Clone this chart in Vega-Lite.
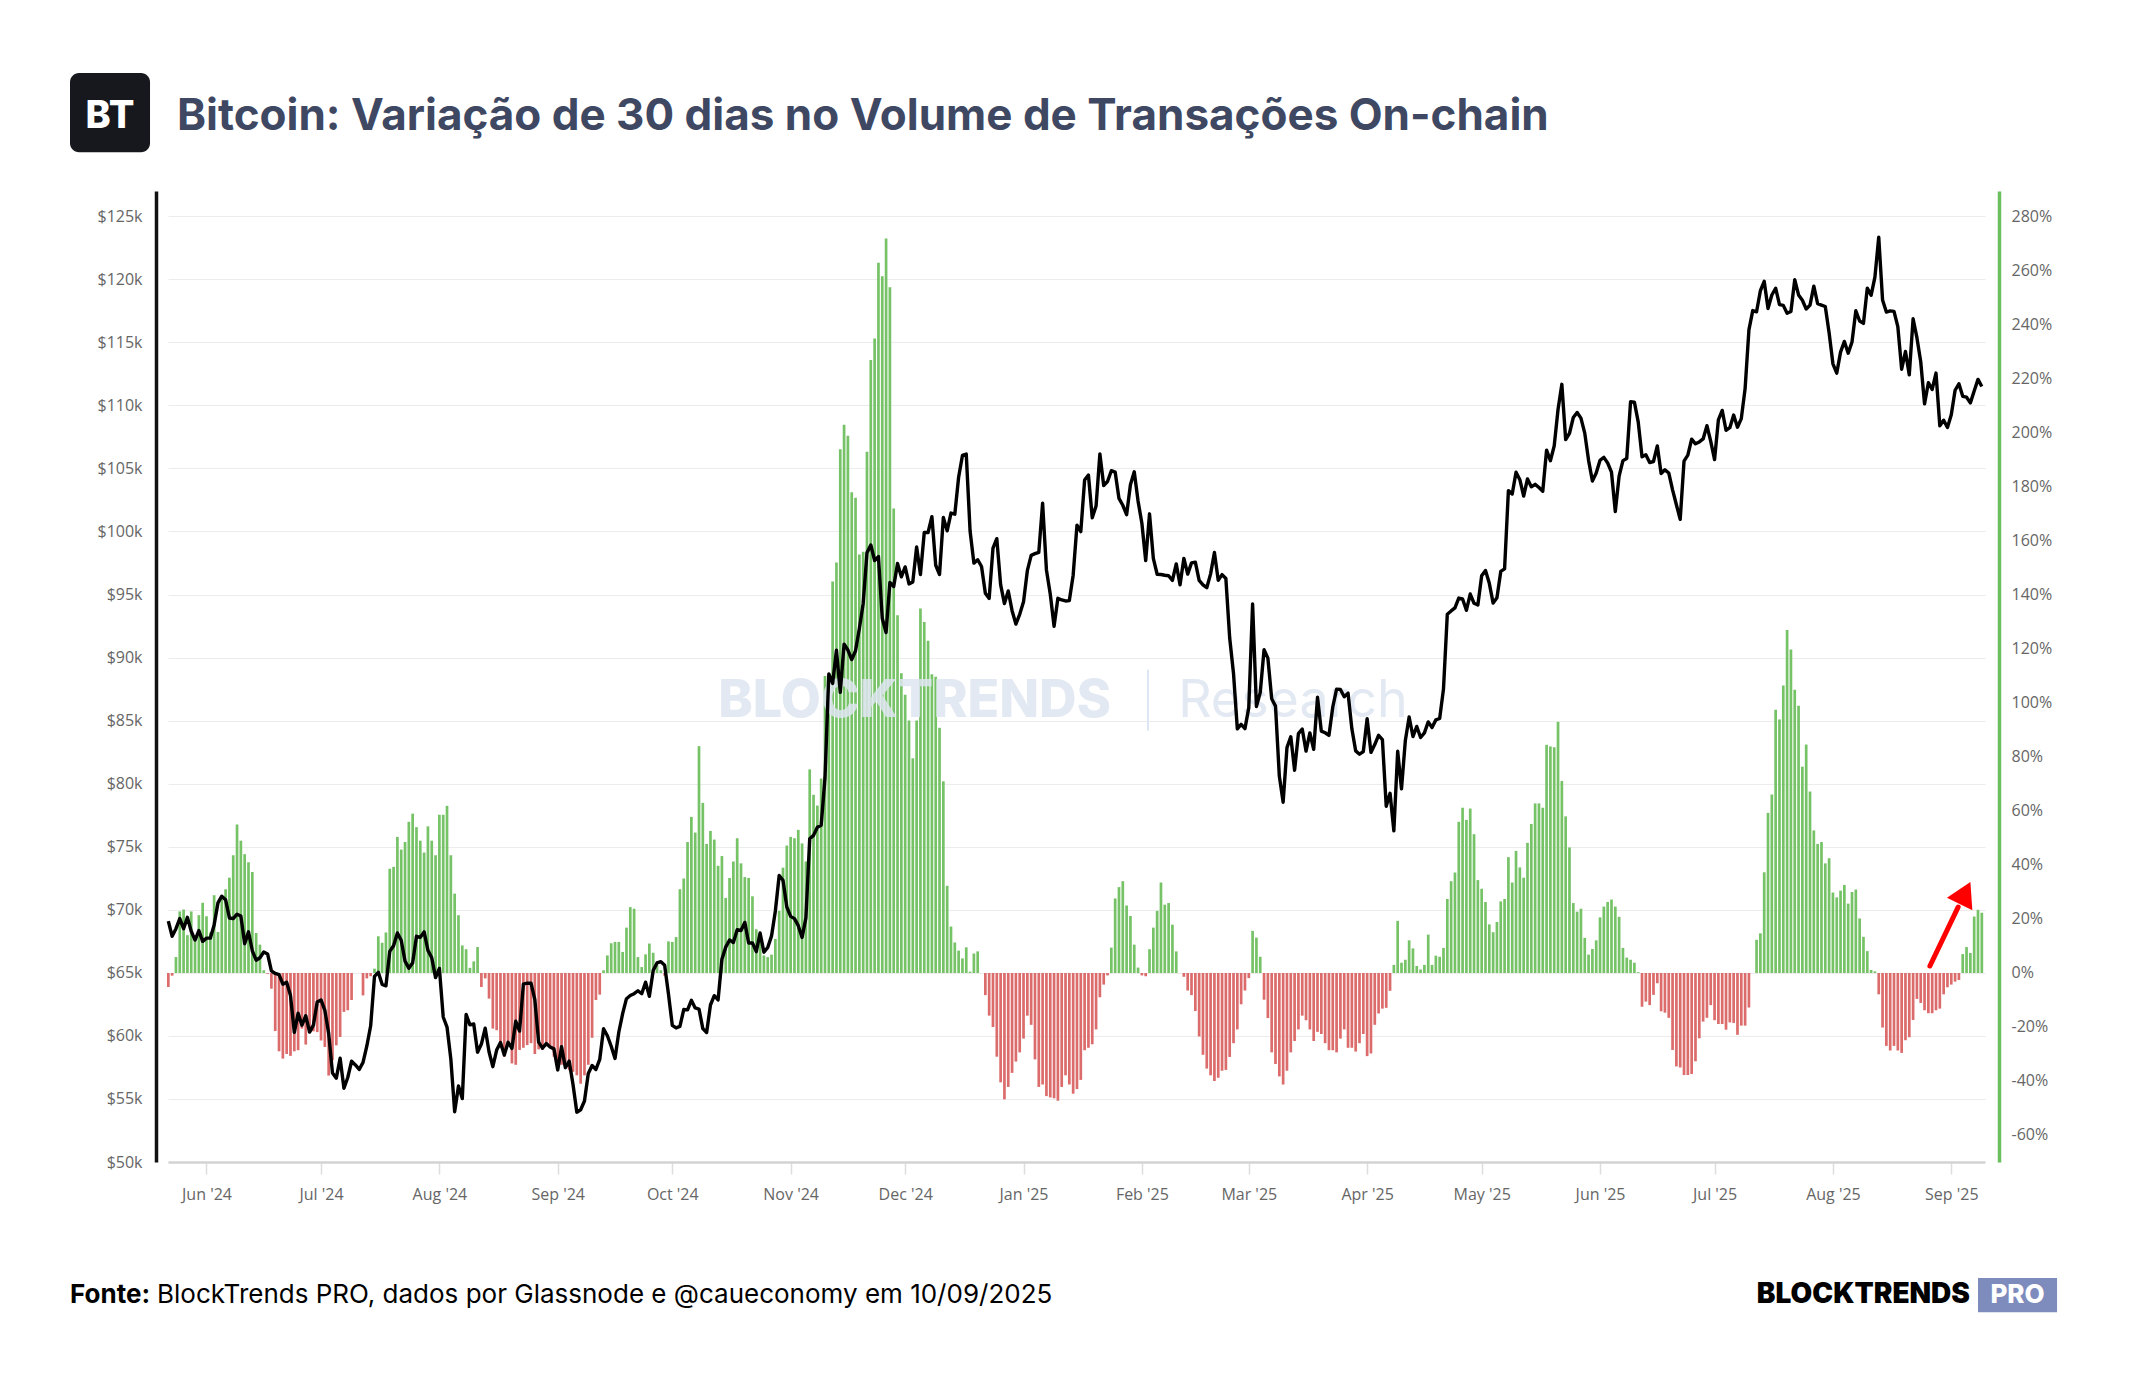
{
"$schema": "https://vega.github.io/schema/vega-lite/v6.json",
"width": 1817, "height": 971,
"autosize": {"type": "none"},
"padding": {"left": 168, "top": 191, "right": 159, "bottom": 238},
"background": "#ffffff",
"config": {"view": {"stroke": null}, "font": "Inter", "axis": {"labelFont": "Open Sans", "labelFontSize": 16, "labelColor": "#666666", "title": null}},
"datasets": {"btc": [
{"date":"2024-05-22","price":69100,"change":-5.2},{"date":"2024-05-23","price":67900,"change":-1},{"date":"2024-05-24","price":68500,"change":5.9},{"date":"2024-05-25","price":69300,"change":22.8},{"date":"2024-05-26","price":68500,"change":23.5},{"date":"2024-05-27","price":69400,"change":14},{"date":"2024-05-28","price":68300,"change":22.8},{"date":"2024-05-29","price":67600,"change":12},{"date":"2024-05-30","price":68350,"change":21.4},{"date":"2024-05-31","price":67500,"change":26},
{"date":"2024-06-01","price":67750,"change":21},{"date":"2024-06-02","price":67750,"change":15},{"date":"2024-06-03","price":68800,"change":28.8},{"date":"2024-06-04","price":70550,"change":15.2},{"date":"2024-06-05","price":71080,"change":28},{"date":"2024-06-06","price":70800,"change":31},{"date":"2024-06-07","price":69350,"change":35.3},{"date":"2024-06-08","price":69300,"change":43.6},{"date":"2024-06-09","price":69650,"change":55},{"date":"2024-06-10","price":69500,"change":49},{"date":"2024-06-11","price":67300,"change":44},{"date":"2024-06-12","price":68250,"change":41},{"date":"2024-06-13","price":66750,"change":37.4},{"date":"2024-06-14","price":66000,"change":14.8},{"date":"2024-06-15","price":66200,"change":10.5},{"date":"2024-06-16","price":66650,"change":1},{"date":"2024-06-17","price":66500,"change":-0.3},{"date":"2024-06-18","price":65150,"change":-5.8},{"date":"2024-06-19","price":64950,"change":-21.5},{"date":"2024-06-20","price":64850,"change":-29},{"date":"2024-06-21","price":64100,"change":-31.7},{"date":"2024-06-22","price":64250,"change":-30},{"date":"2024-06-23","price":63200,"change":-30.7},{"date":"2024-06-24","price":60280,"change":-29},{"date":"2024-06-25","price":61800,"change":-28.6},{"date":"2024-06-26","price":60850,"change":-20.6},{"date":"2024-06-27","price":61600,"change":-26.5},{"date":"2024-06-28","price":60300,"change":-21.9},{"date":"2024-06-29","price":60850,"change":-21.6},{"date":"2024-06-30","price":62680,"change":-21.9},
{"date":"2024-07-01","price":62850,"change":-25},{"date":"2024-07-02","price":62030,"change":-27.4},{"date":"2024-07-03","price":60200,"change":-38},{"date":"2024-07-04","price":57050,"change":-32.3},{"date":"2024-07-05","price":56650,"change":-26.8},{"date":"2024-07-06","price":58230,"change":-23.7},{"date":"2024-07-07","price":55850,"change":-14.4},{"date":"2024-07-08","price":56700,"change":-13.8},{"date":"2024-07-09","price":57990,"change":-10},{"date":"2024-07-10","price":57700,"change":0},{"date":"2024-07-11","price":57340,"change":0},{"date":"2024-07-12","price":57900,"change":-8.3},{"date":"2024-07-13","price":59200,"change":-2},{"date":"2024-07-14","price":60800,"change":-1.2},{"date":"2024-07-15","price":64720,"change":1.6},{"date":"2024-07-16","price":65040,"change":13.6},{"date":"2024-07-17","price":64090,"change":11.2},{"date":"2024-07-18","price":63970,"change":15},{"date":"2024-07-19","price":66700,"change":38.6},{"date":"2024-07-20","price":67150,"change":39.3},{"date":"2024-07-21","price":68160,"change":50.4},{"date":"2024-07-22","price":67580,"change":45.7},{"date":"2024-07-23","price":65930,"change":48.5},{"date":"2024-07-24","price":65370,"change":56},{"date":"2024-07-25","price":65800,"change":59},{"date":"2024-07-26","price":67900,"change":54},{"date":"2024-07-27","price":67810,"change":49},{"date":"2024-07-28","price":68250,"change":44.6},{"date":"2024-07-29","price":66780,"change":54.3},{"date":"2024-07-30","price":66190,"change":49},{"date":"2024-07-31","price":64620,"change":43.6},
{"date":"2024-08-01","price":65350,"change":58.6},{"date":"2024-08-02","price":61500,"change":58.6},{"date":"2024-08-03","price":60700,"change":61.9},{"date":"2024-08-04","price":58160,"change":43.6},{"date":"2024-08-05","price":53990,"change":29.4},{"date":"2024-08-06","price":56030,"change":21.4},{"date":"2024-08-07","price":55030,"change":10.2},{"date":"2024-08-08","price":61700,"change":8.8},{"date":"2024-08-09","price":60880,"change":1.9},{"date":"2024-08-10","price":60940,"change":4.3},{"date":"2024-08-11","price":58710,"change":9.6},{"date":"2024-08-12","price":59350,"change":-5.2},{"date":"2024-08-13","price":60610,"change":-2},{"date":"2024-08-14","price":58740,"change":-9.5},{"date":"2024-08-15","price":57560,"change":-20.6},{"date":"2024-08-16","price":58880,"change":-21.2},{"date":"2024-08-17","price":59480,"change":-26.7},{"date":"2024-08-18","price":58480,"change":-31},{"date":"2024-08-19","price":59490,"change":-26.7},{"date":"2024-08-20","price":59010,"change":-33.5},{"date":"2024-08-21","price":61160,"change":-34},{"date":"2024-08-22","price":60380,"change":-28.5},{"date":"2024-08-23","price":64100,"change":-27.7},{"date":"2024-08-24","price":64180,"change":-26.7},{"date":"2024-08-25","price":64180,"change":-26},{"date":"2024-08-26","price":62880,"change":-30},{"date":"2024-08-27","price":59500,"change":-28.3},{"date":"2024-08-28","price":59030,"change":-28.5},{"date":"2024-08-29","price":59390,"change":-26.7},{"date":"2024-08-30","price":59120,"change":-27.7},{"date":"2024-08-31","price":58970,"change":-31},
{"date":"2024-09-01","price":57300,"change":-35.4},{"date":"2024-09-02","price":59140,"change":-34},{"date":"2024-09-03","price":57480,"change":-33},{"date":"2024-09-04","price":58000,"change":-36},{"date":"2024-09-05","price":56150,"change":-36.6},{"date":"2024-09-06","price":53950,"change":-37.9},{"date":"2024-09-07","price":54140,"change":-41},{"date":"2024-09-08","price":54840,"change":-37.9},{"date":"2024-09-09","price":57020,"change":-34},{"date":"2024-09-10","price":57650,"change":-24},{"date":"2024-09-11","price":57340,"change":-10},{"date":"2024-09-12","price":58130,"change":-8},{"date":"2024-09-13","price":60570,"change":1},{"date":"2024-09-14","price":60010,"change":6.5},{"date":"2024-09-15","price":59180,"change":11},{"date":"2024-09-16","price":58210,"change":11.5},{"date":"2024-09-17","price":60310,"change":11.5},{"date":"2024-09-18","price":61760,"change":7.8},{"date":"2024-09-19","price":62950,"change":16.8},{"date":"2024-09-20","price":63200,"change":24.4},{"date":"2024-09-21","price":63350,"change":23.8},{"date":"2024-09-22","price":63580,"change":5.9},{"date":"2024-09-23","price":63340,"change":2.2},{"date":"2024-09-24","price":64260,"change":6.9},{"date":"2024-09-25","price":63140,"change":10.9},{"date":"2024-09-26","price":65180,"change":7.5},{"date":"2024-09-27","price":65790,"change":3},{"date":"2024-09-28","price":65890,"change":1},{"date":"2024-09-29","price":65600,"change":-1},{"date":"2024-09-30","price":63330,"change":11.7},
{"date":"2024-10-01","price":60840,"change":11.5},{"date":"2024-10-02","price":60630,"change":13.3},{"date":"2024-10-03","price":60750,"change":31},{"date":"2024-10-04","price":62090,"change":35},{"date":"2024-10-05","price":62060,"change":48.5},{"date":"2024-10-06","price":62820,"change":57.8},{"date":"2024-10-07","price":62220,"change":52},{"date":"2024-10-08","price":62130,"change":84},{"date":"2024-10-09","price":60580,"change":63},{"date":"2024-10-10","price":60270,"change":47.8},{"date":"2024-10-11","price":62450,"change":52.6},{"date":"2024-10-12","price":63190,"change":49.4},{"date":"2024-10-13","price":62850,"change":39.7},{"date":"2024-10-14","price":66080,"change":43.3},{"date":"2024-10-15","price":67040,"change":27.8},{"date":"2024-10-16","price":67610,"change":35.2},{"date":"2024-10-17","price":67400,"change":41.3},{"date":"2024-10-18","price":68420,"change":49.9},{"date":"2024-10-19","price":68360,"change":40.6},{"date":"2024-10-20","price":69000,"change":35.5},{"date":"2024-10-21","price":67370,"change":35.2},{"date":"2024-10-22","price":67380,"change":28.4},{"date":"2024-10-23","price":66680,"change":16.2},{"date":"2024-10-24","price":68160,"change":14.9},{"date":"2024-10-25","price":66640,"change":6.5},{"date":"2024-10-26","price":67010,"change":5.9},{"date":"2024-10-27","price":67930,"change":6.8},{"date":"2024-10-28","price":69900,"change":12.6},{"date":"2024-10-29","price":72720,"change":23},{"date":"2024-10-30","price":72340,"change":39},{"date":"2024-10-31","price":70220,"change":47.2},
{"date":"2024-11-01","price":69480,"change":50.4},{"date":"2024-11-02","price":69300,"change":49.9},{"date":"2024-11-03","price":68740,"change":53},{"date":"2024-11-04","price":67810,"change":48},{"date":"2024-11-05","price":69360,"change":41.3},{"date":"2024-11-06","price":75640,"change":75.4},{"date":"2024-11-07","price":75900,"change":66},{"date":"2024-11-08","price":76540,"change":62},{"date":"2024-11-09","price":76700,"change":72},{"date":"2024-11-10","price":80470,"change":110},{"date":"2024-11-11","price":88700,"change":100},{"date":"2024-11-12","price":87950,"change":145},{"date":"2024-11-13","price":90580,"change":152},{"date":"2024-11-14","price":87250,"change":194},{"date":"2024-11-15","price":91070,"change":203},{"date":"2024-11-16","price":90600,"change":199},{"date":"2024-11-17","price":89840,"change":178},{"date":"2024-11-18","price":90540,"change":176},{"date":"2024-11-19","price":92310,"change":155},{"date":"2024-11-20","price":94290,"change":156},{"date":"2024-11-21","price":98320,"change":193},{"date":"2024-11-22","price":98930,"change":227},{"date":"2024-11-23","price":97700,"change":235},{"date":"2024-11-24","price":98010,"change":263},{"date":"2024-11-25","price":93100,"change":258},{"date":"2024-11-26","price":91990,"change":272},{"date":"2024-11-27","price":95960,"change":254},{"date":"2024-11-28","price":95640,"change":172},{"date":"2024-11-29","price":97460,"change":132.5},{"date":"2024-11-30","price":96400,"change":111},
{"date":"2024-12-01","price":97190,"change":103},{"date":"2024-12-02","price":95840,"change":93.5},{"date":"2024-12-03","price":96000,"change":79.5},{"date":"2024-12-04","price":98770,"change":93.5},{"date":"2024-12-05","price":96590,"change":135},{"date":"2024-12-06","price":99920,"change":130},{"date":"2024-12-07","price":99920,"change":123},{"date":"2024-12-08","price":101170,"change":110.6},{"date":"2024-12-09","price":97320,"change":109.7},{"date":"2024-12-10","price":96590,"change":90.8},{"date":"2024-12-11","price":101120,"change":71},{"date":"2024-12-12","price":100050,"change":32.3},{"date":"2024-12-13","price":101460,"change":17.2},{"date":"2024-12-14","price":101370,"change":11.3},{"date":"2024-12-15","price":104300,"change":8.3},{"date":"2024-12-16","price":106030,"change":5.4},{"date":"2024-12-17","price":106140,"change":9.5},{"date":"2024-12-18","price":100040,"change":0.5},{"date":"2024-12-19","price":97490,"change":7.2},{"date":"2024-12-20","price":97760,"change":8},{"date":"2024-12-21","price":97220,"change":0},{"date":"2024-12-22","price":95100,"change":-8.2},{"date":"2024-12-23","price":94690,"change":-15.8},{"date":"2024-12-24","price":98680,"change":-20},{"date":"2024-12-25","price":99430,"change":-31},{"date":"2024-12-26","price":95790,"change":-40.5},{"date":"2024-12-27","price":94280,"change":-46.8},{"date":"2024-12-28","price":95280,"change":-42.2},{"date":"2024-12-29","price":93720,"change":-37},{"date":"2024-12-30","price":92660,"change":-32.8},{"date":"2024-12-31","price":93430,"change":-29.4},
{"date":"2025-01-01","price":94420,"change":-24.3},{"date":"2025-01-02","price":96890,"change":-15.8},{"date":"2025-01-03","price":98110,"change":-19.2},{"date":"2025-01-04","price":98240,"change":-32},{"date":"2025-01-05","price":98350,"change":-42.2},{"date":"2025-01-06","price":102240,"change":-41.3},{"date":"2025-01-07","price":96950,"change":-45.6},{"date":"2025-01-08","price":95040,"change":-46.1},{"date":"2025-01-09","price":92480,"change":-46.4},{"date":"2025-01-10","price":94700,"change":-47.3},{"date":"2025-01-11","price":94570,"change":-42.2},{"date":"2025-01-12","price":94490,"change":-37.9},{"date":"2025-01-13","price":94520,"change":-41.3},{"date":"2025-01-14","price":96530,"change":-44.7},{"date":"2025-01-15","price":100500,"change":-43},{"date":"2025-01-16","price":99990,"change":-39.6},{"date":"2025-01-17","price":104080,"change":-28.6},{"date":"2025-01-18","price":104480,"change":-27.7},{"date":"2025-01-19","price":101090,"change":-26.4},{"date":"2025-01-20","price":102020,"change":-20.9},{"date":"2025-01-21","price":106150,"change":-9},{"date":"2025-01-22","price":103650,"change":-4.3},{"date":"2025-01-23","price":103960,"change":-0.9},{"date":"2025-01-24","price":104820,"change":9.4},{"date":"2025-01-25","price":104710,"change":27.6},{"date":"2025-01-26","price":102620,"change":31.8},{"date":"2025-01-27","price":102080,"change":34},{"date":"2025-01-28","price":101330,"change":25},{"date":"2025-01-29","price":103700,"change":21.1},{"date":"2025-01-30","price":104730,"change":10.5},{"date":"2025-01-31","price":102410,"change":2},
{"date":"2025-02-01","price":100650,"change":-0.9},{"date":"2025-02-02","price":97690,"change":-1.2},{"date":"2025-02-03","price":101400,"change":8.8},{"date":"2025-02-04","price":97870,"change":16.8},{"date":"2025-02-05","price":96610,"change":23},{"date":"2025-02-06","price":96590,"change":33.5},{"date":"2025-02-07","price":96530,"change":25.3},{"date":"2025-02-08","price":96490,"change":25.9},{"date":"2025-02-09","price":96120,"change":17.9},{"date":"2025-02-10","price":97430,"change":8},{"date":"2025-02-11","price":95770,"change":0},{"date":"2025-02-12","price":97870,"change":-1.4},{"date":"2025-02-13","price":96620,"change":-6.5},{"date":"2025-02-14","price":97510,"change":-8.2},{"date":"2025-02-15","price":97570,"change":-14.1},{"date":"2025-02-16","price":96120,"change":-23.5},{"date":"2025-02-17","price":95770,"change":-30.3},{"date":"2025-02-18","price":95540,"change":-35.4},{"date":"2025-02-19","price":96640,"change":-37.9},{"date":"2025-02-20","price":98330,"change":-40},{"date":"2025-02-21","price":96130,"change":-38.8},{"date":"2025-02-22","price":96580,"change":-36.2},{"date":"2025-02-23","price":96270,"change":-35.9},{"date":"2025-02-24","price":91550,"change":-31.1},{"date":"2025-02-25","price":88740,"change":-26},{"date":"2025-02-26","price":84350,"change":-20.9},{"date":"2025-02-27","price":84700,"change":-11.6},{"date":"2025-02-28","price":84370,"change":-6.5},
{"date":"2025-03-01","price":86030,"change":-1.9},{"date":"2025-03-02","price":94250,"change":15.6},{"date":"2025-03-03","price":86120,"change":13.1},{"date":"2025-03-04","price":87220,"change":6},{"date":"2025-03-05","price":90620,"change":-9.9},{"date":"2025-03-06","price":89960,"change":-16.7},{"date":"2025-03-07","price":86740,"change":-29.4},{"date":"2025-03-08","price":86150,"change":-33.7},{"date":"2025-03-09","price":80600,"change":-38.3},{"date":"2025-03-10","price":78530,"change":-41.3},{"date":"2025-03-11","price":82860,"change":-36.2},{"date":"2025-03-12","price":83720,"change":-29.4},{"date":"2025-03-13","price":81070,"change":-25.2},{"date":"2025-03-14","price":83970,"change":-20.9},{"date":"2025-03-15","price":84340,"change":-15.8},{"date":"2025-03-16","price":82580,"change":-17.5},{"date":"2025-03-17","price":84030,"change":-20.9},{"date":"2025-03-18","price":82720,"change":-25.2},{"date":"2025-03-19","price":86850,"change":-21.8},{"date":"2025-03-20","price":84170,"change":-22.6},{"date":"2025-03-21","price":84040,"change":-26},{"date":"2025-03-22","price":83830,"change":-28.6},{"date":"2025-03-23","price":86080,"change":-28.6},{"date":"2025-03-24","price":87500,"change":-29.4},{"date":"2025-03-25","price":87470,"change":-24.3},{"date":"2025-03-26","price":86900,"change":-20.9},{"date":"2025-03-27","price":87180,"change":-27.7},{"date":"2025-03-28","price":84350,"change":-27.7},{"date":"2025-03-29","price":82600,"change":-29.1},{"date":"2025-03-30","price":82340,"change":-26},{"date":"2025-03-31","price":82550,"change":-22.6},
{"date":"2025-04-01","price":85160,"change":-30.8},{"date":"2025-04-02","price":82480,"change":-29.8},{"date":"2025-04-03","price":83100,"change":-19.2},{"date":"2025-04-04","price":83840,"change":-15},{"date":"2025-04-05","price":83500,"change":-13.2},{"date":"2025-04-06","price":78210,"change":-12.9},{"date":"2025-04-07","price":79240,"change":-6.6},{"date":"2025-04-08","price":76270,"change":3},{"date":"2025-04-09","price":82570,"change":19.3},{"date":"2025-04-10","price":79590,"change":3.8},{"date":"2025-04-11","price":83400,"change":4.9},{"date":"2025-04-12","price":85290,"change":12.1},{"date":"2025-04-13","price":83740,"change":9.1},{"date":"2025-04-14","price":84540,"change":2.6},{"date":"2025-04-15","price":83660,"change":1.3},{"date":"2025-04-16","price":84030,"change":3},{"date":"2025-04-17","price":84900,"change":14.2},{"date":"2025-04-18","price":84450,"change":3},{"date":"2025-04-19","price":85060,"change":6.4},{"date":"2025-04-20","price":85170,"change":6},{"date":"2025-04-21","price":87520,"change":9.3},{"date":"2025-04-22","price":93440,"change":27.4},{"date":"2025-04-23","price":93700,"change":34},{"date":"2025-04-24","price":93940,"change":37.2},{"date":"2025-04-25","price":94720,"change":56},{"date":"2025-04-26","price":94650,"change":61.2},{"date":"2025-04-27","price":93750,"change":56.7},{"date":"2025-04-28","price":95040,"change":60.9},{"date":"2025-04-29","price":94310,"change":51.4},{"date":"2025-04-30","price":94170,"change":34.4},
{"date":"2025-05-01","price":96490,"change":31.2},{"date":"2025-05-02","price":96910,"change":26.3},{"date":"2025-05-03","price":95890,"change":18},{"date":"2025-05-04","price":94320,"change":15.1},{"date":"2025-05-05","price":94750,"change":18.9},{"date":"2025-05-06","price":96830,"change":26.5},{"date":"2025-05-07","price":97030,"change":27.4},{"date":"2025-05-08","price":103240,"change":42.9},{"date":"2025-05-09","price":102970,"change":33.5},{"date":"2025-05-10","price":104700,"change":45.2},{"date":"2025-05-11","price":104110,"change":39.1},{"date":"2025-05-12","price":102810,"change":35.3},{"date":"2025-05-13","price":104170,"change":48.2},{"date":"2025-05-14","price":103540,"change":55.2},{"date":"2025-05-15","price":103740,"change":62.8},{"date":"2025-05-16","price":103490,"change":62.8},{"date":"2025-05-17","price":103190,"change":61.2},{"date":"2025-05-18","price":106450,"change":84.5},{"date":"2025-05-19","price":105610,"change":83.9},{"date":"2025-05-20","price":106790,"change":83.6},{"date":"2025-05-21","price":109670,"change":93},{"date":"2025-05-22","price":111670,"change":71.1},{"date":"2025-05-23","price":107290,"change":58},{"date":"2025-05-24","price":107790,"change":46.5},{"date":"2025-05-25","price":109040,"change":25.9},{"date":"2025-05-26","price":109440,"change":22.7},{"date":"2025-05-27","price":108990,"change":23.8},{"date":"2025-05-28","price":107800,"change":13},{"date":"2025-05-29","price":105640,"change":6.8},{"date":"2025-05-30","price":104000,"change":8.9},{"date":"2025-05-31","price":104640,"change":12.1},
{"date":"2025-06-01","price":105650,"change":20.6},{"date":"2025-06-02","price":105880,"change":24.6},{"date":"2025-06-03","price":105430,"change":26.3},{"date":"2025-06-04","price":104700,"change":27.2},{"date":"2025-06-05","price":101580,"change":24.6},{"date":"2025-06-06","price":104390,"change":20.8},{"date":"2025-06-07","price":105620,"change":9.3},{"date":"2025-06-08","price":105790,"change":5.7},{"date":"2025-06-09","price":110290,"change":4.9},{"date":"2025-06-10","price":110260,"change":3.8},{"date":"2025-06-11","price":108690,"change":0.3},{"date":"2025-06-12","price":105930,"change":-12.5},{"date":"2025-06-13","price":106090,"change":-10.6},{"date":"2025-06-14","price":105470,"change":-11.9},{"date":"2025-06-15","price":105550,"change":-8.1},{"date":"2025-06-16","price":106790,"change":-3.8},{"date":"2025-06-17","price":104600,"change":-14.2},{"date":"2025-06-18","price":104890,"change":-14.7},{"date":"2025-06-19","price":104640,"change":-16.6},{"date":"2025-06-20","price":103300,"change":-28.5},{"date":"2025-06-21","price":102120,"change":-34.6},{"date":"2025-06-22","price":100960,"change":-35},{"date":"2025-06-23","price":105580,"change":-37.8},{"date":"2025-06-24","price":106050,"change":-37.8},{"date":"2025-06-25","price":107320,"change":-37.4},{"date":"2025-06-26","price":106950,"change":-32.7},{"date":"2025-06-27","price":107100,"change":-24.2},{"date":"2025-06-28","price":107340,"change":-18},{"date":"2025-06-29","price":108390,"change":-16.6},{"date":"2025-06-30","price":107140,"change":-11.9},
{"date":"2025-07-01","price":105700,"change":-17.5},{"date":"2025-07-02","price":108850,"change":-18.9},{"date":"2025-07-03","price":109600,"change":-18.9},{"date":"2025-07-04","price":108030,"change":-21},{"date":"2025-07-05","price":108230,"change":-18.3},{"date":"2025-07-06","price":109230,"change":-18.5},{"date":"2025-07-07","price":108270,"change":-22.9},{"date":"2025-07-08","price":108950,"change":-19.5},{"date":"2025-07-09","price":111330,"change":-19.5},{"date":"2025-07-10","price":115990,"change":-12.8},{"date":"2025-07-11","price":117520,"change":0},{"date":"2025-07-12","price":117420,"change":12.3},{"date":"2025-07-13","price":119090,"change":14.7},{"date":"2025-07-14","price":119840,"change":37.3},{"date":"2025-07-15","price":117680,"change":59.3},{"date":"2025-07-16","price":118750,"change":66.1},{"date":"2025-07-17","price":119290,"change":97.5},{"date":"2025-07-18","price":117990,"change":93.9},{"date":"2025-07-19","price":117930,"change":106.5},{"date":"2025-07-20","price":117300,"change":127},{"date":"2025-07-21","price":117440,"change":119.8},{"date":"2025-07-22","price":119960,"change":104.9},{"date":"2025-07-23","price":118760,"change":99},{"date":"2025-07-24","price":118340,"change":76.4},{"date":"2025-07-25","price":117640,"change":84.6},{"date":"2025-07-26","price":117950,"change":67.2},{"date":"2025-07-27","price":119450,"change":52.8},{"date":"2025-07-28","price":118060,"change":47.8},{"date":"2025-07-29","price":117950,"change":48.5},{"date":"2025-07-30","price":117840,"change":40.6},{"date":"2025-07-31","price":115760,"change":42.5},
{"date":"2025-08-01","price":113300,"change":29.8},{"date":"2025-08-02","price":112550,"change":28},{"date":"2025-08-03","price":114220,"change":30.5},{"date":"2025-08-04","price":115070,"change":32.6},{"date":"2025-08-05","price":114140,"change":25.7},{"date":"2025-08-06","price":115030,"change":30},{"date":"2025-08-07","price":117500,"change":30.9},{"date":"2025-08-08","price":116690,"change":20.2},{"date":"2025-08-09","price":116500,"change":13.4},{"date":"2025-08-10","price":119300,"change":8.1},{"date":"2025-08-11","price":118730,"change":1.1},{"date":"2025-08-12","price":120170,"change":0.6},{"date":"2025-08-13","price":123340,"change":-7.9},{"date":"2025-08-14","price":118360,"change":-20.2},{"date":"2025-08-15","price":117400,"change":-27},{"date":"2025-08-16","price":117490,"change":-28.7},{"date":"2025-08-17","price":117450,"change":-27},{"date":"2025-08-18","price":116250,"change":-28.7},{"date":"2025-08-19","price":112870,"change":-29.6},{"date":"2025-08-20","price":114270,"change":-24.9},{"date":"2025-08-21","price":112420,"change":-23.8},{"date":"2025-08-22","price":116870,"change":-17.4},{"date":"2025-08-23","price":115370,"change":-9.6},{"date":"2025-08-24","price":113460,"change":-11.1},{"date":"2025-08-25","price":110120,"change":-13.8},{"date":"2025-08-26","price":111800,"change":-14.9},{"date":"2025-08-27","price":111260,"change":-14.9},{"date":"2025-08-28","price":112560,"change":-13.8},{"date":"2025-08-29","price":108380,"change":-13.2},{"date":"2025-08-30","price":108820,"change":-7.9},{"date":"2025-08-31","price":108240,"change":-5.3},
{"date":"2025-09-01","price":109250,"change":-4.3},{"date":"2025-09-02","price":111200,"change":-3.2},{"date":"2025-09-03","price":111710,"change":-2.6},{"date":"2025-09-04","price":110720,"change":7},{"date":"2025-09-05","price":110650,"change":9.6},{"date":"2025-09-06","price":110200,"change":7.4},{"date":"2025-09-07","price":111140,"change":20.9},{"date":"2025-09-08","price":112060,"change":23.4},{"date":"2025-09-09","price":111500,"change":22.3}
]},
"data": {"name": "btc"},
"layer": [
 {"layer": [
  {"mark": {"type": "bar", "size": 2.7},
   "encoding": {
    "x": {"field": "date", "type": "temporal",
      "scale": {"type": "utc", "padding": 0, "domain": [{"year":2024,"month":5,"date":21,"hours":22,"utc":true},{"year":2025,"month":9,"date":9,"hours":20,"utc":true}]},
      "axis": {"orient": "bottom", "title": null, "labelExpr": "utcFormat(datum.value, \"%b '%y\")",
        "values": [{"year":2024,"month":6,"date":1,"utc":true},{"year":2024,"month":7,"date":1,"utc":true},{"year":2024,"month":8,"date":1,"utc":true},{"year":2024,"month":9,"date":1,"utc":true},{"year":2024,"month":10,"date":1,"utc":true},{"year":2024,"month":11,"date":1,"utc":true},{"year":2024,"month":12,"date":1,"utc":true},{"year":2025,"month":1,"date":1,"utc":true},{"year":2025,"month":2,"date":1,"utc":true},{"year":2025,"month":3,"date":1,"utc":true},{"year":2025,"month":4,"date":1,"utc":true},{"year":2025,"month":5,"date":1,"utc":true},{"year":2025,"month":6,"date":1,"utc":true},{"year":2025,"month":7,"date":1,"utc":true},{"year":2025,"month":8,"date":1,"utc":true},{"year":2025,"month":9,"date":1,"utc":true}],
        "domainColor": "#d3d3d3", "domainWidth": 2.5, "tickColor": "#dddddd", "tickSize": 12, "tickWidth": 1.5, "labelPadding": 12, "grid": false, "labelFlush": false}},
    "y": {"field": "change", "type": "quantitative",
      "scale": {"domain": [-70, 289.6], "nice": false, "zero": false},
      "axis": {"orient": "right", "title": null, "offset": 14, "values": [-60,-40,-20,0,20,40,60,80,100,120,140,160,180,200,220,240,260,280], "labelExpr": "datum.value + '%'", "domainColor": "#6cbf5f", "domainWidth": 3.5, "ticks": false, "labelPadding": 12, "grid": false}},
    "color": {"condition": {"test": "datum.change >= 0", "value": "#76c267"}, "value": "#dc6b6b"}
   }},
  {"data": {"values": [{}]},
   "mark": {"type": "rule", "color": "#ff0000", "strokeWidth": 5, "strokeCap": "round"},
   "encoding": {
    "x": {"datum": {"year":2025,"month":8,"date":26,"hours":9,"minutes":36,"utc":true}, "type": "temporal", "scale": {"type": "utc"}},
    "x2": {"datum": {"year":2025,"month":9,"date":2,"hours":19,"utc":true}},
    "y": {"datum": 2.6, "type": "quantitative", "scale": {"domain": [-70, 289.6], "nice": false, "zero": false}},
    "y2": {"datum": 24.4}
   }},
  {"data": {"values": [{}]},
   "mark": {"type": "point", "shape": "triangle-up", "filled": true, "color": "#ff0000", "opacity": 1, "size": 800, "angle": 26},
   "encoding": {
    "x": {"datum": {"year":2025,"month":9,"date":4,"hours":14,"minutes":24,"utc":true}, "type": "temporal", "scale": {"type": "utc"}},
    "y": {"datum": 29.6, "type": "quantitative", "scale": {"domain": [-70, 289.6], "nice": false, "zero": false}}
   }}
 ]},
 {"layer": [
  {"data": {"values": [{}]},
   "mark": {"type": "text", "text": "BLOCKTRENDS", "font": "Inter", "fontSize": 52, "fontWeight": 800, "color": "#dfe6f1", "opacity": 0.85, "align": "right", "baseline": "middle"},
   "encoding": {
    "x": {"datum": {"year":2025,"month":1,"date":23,"hours":22,"utc":true}, "type": "temporal", "scale": {"type": "utc"}},
    "y": {"datum": 86590, "type": "quantitative", "scale": {"domain": [50000, 127000], "nice": false, "zero": false}}
   }},
  {"data": {"values": [{}]},
   "mark": {"type": "rule", "color": "#dfe6f1", "strokeWidth": 2},
   "encoding": {
    "x": {"datum": {"year":2025,"month":2,"date":2,"hours":14,"utc":true}, "type": "temporal", "scale": {"type": "utc"}},
    "y": {"datum": 89048, "type": "quantitative", "scale": {"domain": [50000, 127000], "nice": false, "zero": false}},
    "y2": {"datum": 84206}
   }},
  {"data": {"values": [{}]},
   "mark": {"type": "text", "text": "Research", "font": "Inter", "fontSize": 52, "fontWeight": 400, "color": "#dfe6f1", "opacity": 0.85, "align": "left", "baseline": "middle"},
   "encoding": {
    "x": {"datum": {"year":2025,"month":2,"date":10,"hours":12,"utc":true}, "type": "temporal", "scale": {"type": "utc"}},
    "y": {"datum": 86590, "type": "quantitative", "scale": {"domain": [50000, 127000], "nice": false, "zero": false}}
   }},
  {"mark": {"type": "line", "color": "#000000", "strokeWidth": 3.4, "strokeJoin": "round"},
   "encoding": {
    "x": {"field": "date", "type": "temporal", "scale": {"type": "utc"}},
    "y": {"field": "price", "type": "quantitative",
      "scale": {"domain": [50000, 127000], "nice": false, "zero": false},
      "axis": {"orient": "left", "title": null, "offset": 12, "values": [50000,55000,60000,65000,70000,75000,80000,85000,90000,95000,100000,105000,110000,115000,120000,125000], "format": "$~s", "domainColor": "#111111", "domainWidth": 3.5, "ticks": false, "labelPadding": 14, "grid": true, "gridColor": "#ececec", "gridWidth": 1.2}}
   }},
  {"data": {"values": [{}]},
   "mark": {"type": "rect", "color": "#16181d", "cornerRadius": 9},
   "encoding": {
    "x": {"datum": {"year":2024,"month":4,"date":26,"hours":6,"utc":true}, "type": "temporal", "scale": {"type": "utc"}},
    "x2": {"datum": {"year":2024,"month":5,"date":17,"hours":5,"utc":true}},
    "y": {"datum": 136350, "type": "quantitative", "scale": {"domain": [50000, 127000], "nice": false, "zero": false}},
    "y2": {"datum": 130080}
   }},
  {"data": {"values": [{}]},
   "mark": {"type": "text", "text": "BT", "font": "Inter", "fontSize": 38, "fontWeight": 800, "color": "#ffffff", "align": "center", "baseline": "middle"},
   "encoding": {
    "x": {"datum": {"year":2024,"month":5,"date":6,"hours":17,"minutes":30,"utc":true}, "type": "temporal", "scale": {"type": "utc"}},
    "y": {"datum": 132900, "type": "quantitative", "scale": {"domain": [50000, 127000], "nice": false, "zero": false}}
   }},
  {"data": {"values": [{}]},
   "mark": {"type": "text", "text": "Bitcoin: Variação de 30 dias no Volume de Transações On-chain", "font": "Inter", "fontSize": 44, "fontWeight": 700, "color": "#3f4863", "align": "left", "baseline": "middle"},
   "encoding": {
    "x": {"datum": {"year":2024,"month":5,"date":24,"hours":6,"utc":true}, "type": "temporal", "scale": {"type": "utc"}},
    "y": {"datum": 132900, "type": "quantitative", "scale": {"domain": [50000, 127000], "nice": false, "zero": false}}
   }},
  {"data": {"values": [{}]},
   "mark": {"type": "text", "text": "Fonte:", "font": "Inter", "fontSize": 26, "fontWeight": 700, "color": "#000000", "align": "left", "baseline": "middle"},
   "encoding": {
    "x": {"datum": {"year":2024,"month":4,"date":26,"hours":6,"utc":true}, "type": "temporal", "scale": {"type": "utc"}},
    "y": {"datum": 39480, "type": "quantitative", "scale": {"domain": [50000, 127000], "nice": false, "zero": false}}
   }},
  {"data": {"values": [{}]},
   "mark": {"type": "text", "text": "BlockTrends PRO, dados por Glassnode e @caueconomy em 10/09/2025", "font": "Inter", "fontSize": 26, "fontWeight": 400, "color": "#000000", "align": "left", "baseline": "middle"},
   "encoding": {
    "x": {"datum": {"year":2024,"month":5,"date":19,"hours":1,"utc":true}, "type": "temporal", "scale": {"type": "utc"}},
    "y": {"datum": 39480, "type": "quantitative", "scale": {"domain": [50000, 127000], "nice": false, "zero": false}}
   }},
  {"data": {"values": [{}]},
   "mark": {"type": "text", "text": "BLOCKTRENDS", "font": "Inter", "fontSize": 28, "fontWeight": 900, "color": "#000000", "align": "right", "baseline": "middle"},
   "encoding": {
    "x": {"datum": {"year":2025,"month":9,"date":5,"hours":21,"minutes":36,"utc":true}, "type": "temporal", "scale": {"type": "utc"}},
    "y": {"datum": 39444, "type": "quantitative", "scale": {"domain": [50000, 127000], "nice": false, "zero": false}}
   }},
  {"data": {"values": [{}]},
   "mark": {"type": "rect", "color": "#7d8bbd"},
   "encoding": {
    "x": {"datum": {"year":2025,"month":9,"date":8,"utc":true}, "type": "temporal", "scale": {"type": "utc"}},
    "x2": {"datum": {"year":2025,"month":9,"date":28,"hours":17,"utc":true}},
    "y": {"datum": 40794, "type": "quantitative", "scale": {"domain": [50000, 127000], "nice": false, "zero": false}},
    "y2": {"datum": 38095}
   }},
  {"data": {"values": [{}]},
   "mark": {"type": "text", "text": "PRO", "font": "Inter", "fontSize": 26, "fontWeight": 800, "color": "#ffffff", "align": "center", "baseline": "middle"},
   "encoding": {
    "x": {"datum": {"year":2025,"month":9,"date":18,"hours":8,"minutes":24,"utc":true}, "type": "temporal", "scale": {"type": "utc"}},
    "y": {"datum": 39444, "type": "quantitative", "scale": {"domain": [50000, 127000], "nice": false, "zero": false}}
   }}
 ]}
],
"resolve": {"scale": {"y": "independent"}}
}
